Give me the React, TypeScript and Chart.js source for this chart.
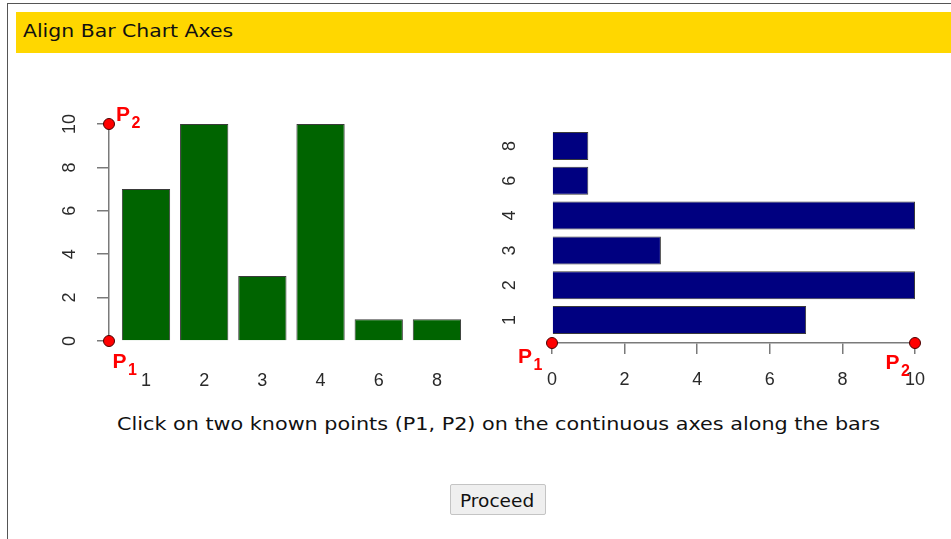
import React, { useEffect, useRef } from "react";
import { Chart, registerables } from "chart.js";

Chart.register(...registerables);

const TITLE = "Align Bar Chart Axes";
const CAPTION = "Click on two known points (P1, P2) on the continuous axes along the bars";
const BUTTON_TEXT = "Proceed";

const categories = ["1", "2", "3", "4", "6", "8"];
const verticalValues = [7, 10, 3, 10, 1, 1];
const horizontalValues = [7, 10, 3, 10, 1, 1];
const valueTicks = [0, 2, 4, 6, 8, 10];
const pointSubscripts = ["1", "2"];

const AXIS_GRAY = "#7a7a7a";
const LABEL_COLOR = "#2a2a2a";
const LABEL_FONT = "'Liberation Sans', Arial, Helvetica, sans-serif";
const UI_FONT = "'DejaVu Sans', Verdana, sans-serif";

function drawMarker(ctx: CanvasRenderingContext2D, px: number, py: number, sub: string, dx: number, dy: number) {
  ctx.save();
  ctx.beginPath();
  ctx.arc(px, py, 5.5, 0, Math.PI * 2);
  ctx.fillStyle = "#ff0000";
  ctx.fill();
  ctx.lineWidth = 1;
  ctx.strokeStyle = "#4a0000";
  ctx.stroke();
  ctx.fillStyle = "#ff0000";
  ctx.textAlign = "left";
  ctx.textBaseline = "alphabetic";
  ctx.font = `bold 21px ${LABEL_FONT}`;
  ctx.fillText("P", px + dx, py + dy);
  const w = ctx.measureText("P").width;
  ctx.font = `bold 16px ${LABEL_FONT}`;
  ctx.fillText(sub, px + dx + w + 1.5, py + dy + 7);
  ctx.restore();
}

function drawRotatedLabel(ctx: CanvasRenderingContext2D, text: string, x: number, y: number) {
  ctx.save();
  ctx.translate(x, y);
  ctx.rotate(-Math.PI / 2);
  ctx.fillStyle = LABEL_COLOR;
  ctx.font = `18px ${LABEL_FONT}`;
  ctx.textAlign = "center";
  ctx.textBaseline = "middle";
  ctx.fillText(text, 0, 0);
  ctx.restore();
}

const leftDecor = {
  id: "leftDecor",
  afterDraw(chart: any) {
    const { ctx, chartArea } = chart;
    const y = chart.scales.y;
    valueTicks.forEach((v) => {
      drawRotatedLabel(ctx, String(v), chartArea.left - 39, y.getPixelForValue(v));
    });
    const ax = chartArea.left;
    drawMarker(ctx, ax, y.getPixelForValue(valueTicks[0]), pointSubscripts[0], 3.5, 27);
    drawMarker(ctx, ax, y.getPixelForValue(valueTicks[valueTicks.length - 1]), pointSubscripts[1], 7, -3);
  },
};

const rightDecor = {
  id: "rightDecor",
  afterDraw(chart: any) {
    const { ctx, chartArea } = chart;
    const x = chart.scales.x;
    const y = chart.scales.y;
    categories.forEach((c, i) => {
      drawRotatedLabel(ctx, c, chartArea.left - 41.5, y.getPixelForValue(i + 1));
    });
    const ay = chartArea.bottom;
    drawMarker(ctx, x.getPixelForValue(valueTicks[0]), ay, pointSubscripts[0], -34, 20);
    drawMarker(ctx, x.getPixelForValue(valueTicks[valueTicks.length - 1]), ay, pointSubscripts[1], -29.5, 25.7);
  },
};

function LeftChart() {
  const ref = useRef<HTMLCanvasElement>(null);
  useEffect(() => {
    const chart = new Chart(ref.current as HTMLCanvasElement, {
      type: "bar",
      data: {
        datasets: [
          {
            data: verticalValues.map((v, i) => ({ x: i + 1, y: v })),
            backgroundColor: "#006400",
            borderColor: "#3a3a3a",
            borderWidth: 1,
            barPercentage: 0.83,
            categoryPercentage: 1,
          } as any,
        ],
      },
      options: {
        responsive: false,
        animation: false,
        layout: { padding: { top: 64, right: 14, left: 0, bottom: 0 } },
        plugins: { legend: { display: false }, tooltip: { enabled: false }, title: { display: false } },
        scales: {
          x: {
            type: "linear",
            offset: false,
            min: 0.364,
            max: 6.5,
            afterFit: (s: any) => {
              s.height = 59;
            },
            afterBuildTicks: (s: any) => {
              s.ticks = categories.map((_, i) => ({ value: i + 1 }));
            },
            ticks: {
              callback: (v: any) => categories[Math.round(Number(v)) - 1] ?? "",
              autoSkip: false,
              maxRotation: 0,
              minRotation: 0,
              padding: 29,
              color: LABEL_COLOR,
              font: { family: LABEL_FONT, size: 18 },
            },
            grid: { display: false, drawTicks: false, offset: false },
            border: { display: false },
          },
          y: {
            type: "linear",
            min: 0,
            max: 10,
            afterFit: (s: any) => {
              s.width = 109;
            },
            afterBuildTicks: (s: any) => {
              s.ticks = valueTicks.map((v) => ({ value: v }));
            },
            ticks: { display: false },
            grid: { drawOnChartArea: false, drawTicks: true, tickLength: 12, color: AXIS_GRAY, lineWidth: 1.5 },
            border: { display: true, color: AXIS_GRAY, width: 1.5 },
          },
        },
      } as any,
      plugins: [leftDecor],
    });
    return () => chart.destroy();
  }, []);
  return (
    <canvas
      ref={ref}
      width={480}
      height={340}
      style={{ position: "absolute", left: 0, top: 60, width: 480, height: 340 }}
    />
  );
}

function RightChart() {
  const ref = useRef<HTMLCanvasElement>(null);
  useEffect(() => {
    const chart = new Chart(ref.current as HTMLCanvasElement, {
      type: "bar",
      data: {
        datasets: [
          {
            data: horizontalValues.map((v, i) => ({ x: v, y: i + 1 })),
            backgroundColor: "#000080",
            borderColor: "#3a3a3a",
            borderWidth: 1,
            barPercentage: 0.805,
            categoryPercentage: 1,
          } as any,
        ],
      },
      options: {
        indexAxis: "y",
        responsive: false,
        animation: false,
        layout: { padding: { top: 68.6, right: 36, left: 0, bottom: 0 } },
        plugins: { legend: { display: false }, tooltip: { enabled: false }, title: { display: false } },
        scales: {
          x: {
            type: "linear",
            offset: false,
            min: 0,
            max: 10,
            afterFit: (s: any) => {
              s.height = 57;
            },
            afterBuildTicks: (s: any) => {
              s.ticks = valueTicks.map((v) => ({ value: v }));
            },
            ticks: {
              autoSkip: false,
              maxRotation: 0,
              minRotation: 0,
              padding: 15,
              color: LABEL_COLOR,
              font: { family: LABEL_FONT, size: 18 },
            },
            grid: { drawOnChartArea: false, drawTicks: true, tickLength: 11, color: AXIS_GRAY, lineWidth: 1.5 },
            border: { display: true, color: AXIS_GRAY, width: 1.5 },
          },
          y: {
            type: "linear",
            offset: false,
            min: 0.339,
            max: 6.5,
            afterFit: (s: any) => {
              s.width = 72;
            },
            afterBuildTicks: (s: any) => {
              s.ticks = categories.map((_, i) => ({ value: i + 1 }));
            },
            ticks: { display: false },
            grid: { display: false, drawTicks: false, offset: false },
            border: { display: false },
          },
        },
      } as any,
      plugins: [rightDecor],
    });
    return () => chart.destroy();
  }, []);
  return (
    <canvas
      ref={ref}
      width={471}
      height={340}
      style={{ position: "absolute", left: 480, top: 60, width: 471, height: 340 }}
    />
  );
}

export default function App() {
  const textBase: React.CSSProperties = {
    position: "absolute",
    fontFamily: UI_FONT,
    fontSize: 17,
    lineHeight: "17px",
    whiteSpace: "nowrap",
    color: "#111",
    transformOrigin: "0 0",
  };
  return (
    <div
      style={{
        position: "absolute",
        left: 0,
        top: 0,
        width: 951,
        height: 539,
        overflow: "hidden",
        background: "#ffffff",
      }}
    >
      <div
        style={{
          position: "absolute",
          left: 7,
          top: 3,
          width: 1000,
          height: 600,
          borderTop: "1.5px solid #555",
          borderLeft: "1.5px solid #555",
        }}
      />
      <div
        style={{
          position: "absolute",
          left: 16,
          top: 12,
          width: 960,
          height: 41,
          background: "#FFD700",
        }}
      />
      <div style={{ ...textBase, left: 23, top: 22.9, transform: "scaleX(1.2)" }}>{TITLE}</div>
      <LeftChart />
      <RightChart />
      <div style={{ ...textBase, left: 117, top: 415.6, transform: "scaleX(1.22)" }}>{CAPTION}</div>
      <div
        style={{
          position: "absolute",
          left: 450,
          top: 484,
          width: 96,
          height: 31,
          boxSizing: "border-box",
          background: "#efefef",
          border: "1px solid #c4c4c4",
          borderRadius: 2,
        }}
      />
      <div style={{ ...textBase, left: 460, top: 492.6, transform: "scaleX(1.09)" }}>{BUTTON_TEXT}</div>
    </div>
  );
}
